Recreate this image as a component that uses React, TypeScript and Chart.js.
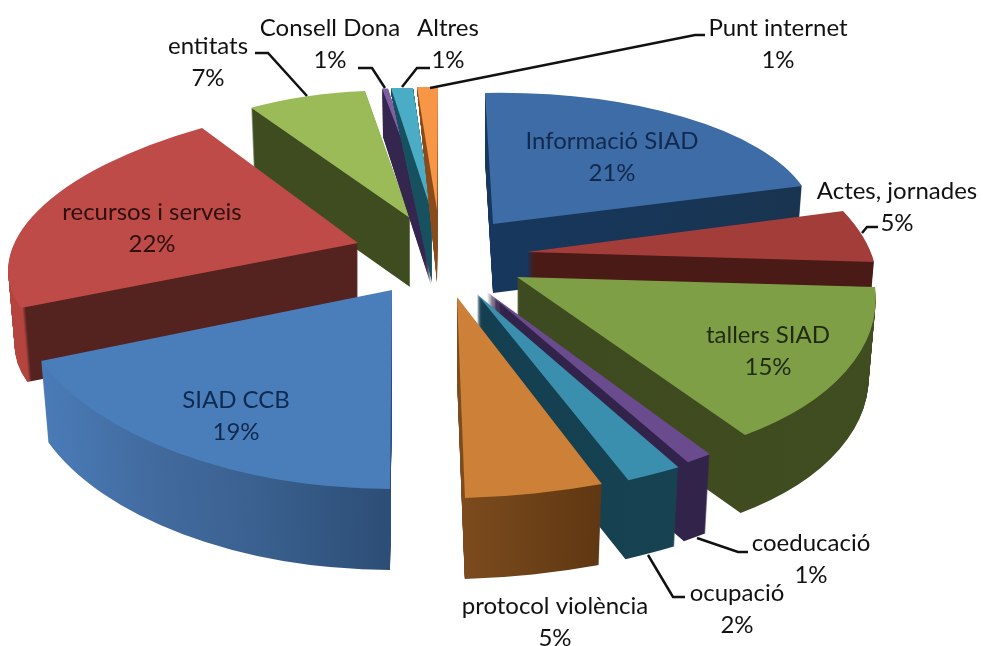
import React, { useEffect, useRef } from "react";
import { Chart, registerables } from "chart.js";

Chart.register(...registerables);

// ---- data ----
const categories = [
  "Informació SIAD", "Actes, jornades", "tallers SIAD", "coeducació", "ocupació", "protocol violència",
  "SIAD CCB", "recursos i serveis", "entitats", "Consell Dona", "Altres", "Punt internet",
];
const shares = [21, 5, 15, 1, 2, 5, 19, 22, 7, 1, 1, 1];

// ---- style ----
const topColors = ["#3d6ca6", "#a33d3a", "#7f9f46", "#6a4b8e", "#3b8fae", "#cd8038", "#4a7ebb", "#be4b48", "#9bbb59", "#7f5fa3", "#4bacc6", "#f79646"];
const wallColors: [number, string][][] = [
  [[0, "#17375e"], [1, "#183450"]],
  [[0, "#4a1a16"], [1, "#4a1a16"]],
  [[0, "#3e4a1f"], [1, "#404d20"]],
  [[0, "#32234a"], [1, "#32234a"]],
  [[0, "#143f50"], [1, "#174252"]],
  [[0, "#7d4c1e"], [1, "#5f3712"]],
  [[0, "#4a7bb7"], [0.35, "#41699c"], [0.6, "#3a6190"], [1, "#2c4d75"]],
  [[0, "#b5443f"], [0.04, "#b5443f"], [0.05, "#54231f"], [1, "#54231f"]],
  [[0, "#3f4c1f"], [1, "#3f4c1f"]],
  [[0, "#34264f"], [1, "#34264f"]],
  [[0, "#17505f"], [1, "#17505f"]],
  [[0, "#8a4b1a"], [1, "#8a4b1a"]],
];
const wallDepth = [69, 50, 78, 79, 79, 81, 81, 74, 69, 68, 70, 73];
// how quickly the wall thins towards the far rim (perspective)
const wallFade = [0, 0, 0, 0, 0, 0, 0, 0, 0, 0.0023, 0.00709, 0.0076];
const wallNarrow = 0.00025;
const paintOrder = [8, 9, 10, 11, 0, 7, 1, 2, 3, 4, 5, 6];
// each wedge is exploded to its own pivot and tilted by its own 2x2 view matrix [a, b, c, d]
const pivots = [[493, 224], [527, 252], [517, 277], [487, 292], [477, 294], [457, 297], [392, 290], [358, 243], [410, 218], [431, 217], [432, 213], [437, 210]];
const views = [
  [321.1, -5.6, 8, 131], [343.5, -0.3, 67, 163.7], [356, -1.8, 44.1, 188.3], [409, -25, 4.4, 208],
  [435.6, -17, -9.6, 207], [444, -1, -20, 201.5], [375.8, 14.9, -25.7, 198.4], [345.1, -3.7, -58, 144.9],
  [281.3, 12.7, -7.9, 126.9], [101, 20, 30.6, 127], [351, 12, -3, 124.4], [334, 3, -1, 123],
];
const labelCenters = [[612, 141], [897, 191], [768, 335], [811, 543], [737, 593], [555, 606], [236, 400], [152, 212], [208, 46], [330, 28], [448, 28], [778, 28]];
const labelColors = ["#12294d", "#111", "#1f2a10", "#111", "#111", "#111", "#10294f", "#2c0f0e", "#111", "#111", "#111", "#111"];
const leaderLines = [
  [[255, 53], [268, 53], [307, 96]],
  [[358, 68], [372, 68], [385, 88]],
  [[430, 68], [417, 68], [402, 87]],
  [[705, 35], [695, 35], [430, 88]],
  [[878, 227], [867, 227], [862, 233]],
  [[748, 552], [738, 552], [697, 538]],
  [[685, 597], [673, 597], [648, 555]],
];
const FONT = '24px Lato, "Noto Sans", sans-serif';
const LINE_GAP = 32;

const pie3d = {
  id: "pie3d",
  beforeDraw(chart: any) {
    const { ctx, width, height } = chart;
    ctx.save();
    ctx.fillStyle = "#ffffff";
    ctx.fillRect(0, 0, width, height);
    ctx.restore();
  },
  beforeDatasetDraw(chart: any) {
    const { ctx } = chart;
    const arcs = chart.getDatasetMeta(0).data;
    paintOrder.forEach((i) => {
      const arc = arcs[i];
      const R = arc.outerRadius;
      const [px, py] = pivots[i];
      const [a, b, c, d] = views[i];
      const place = (k: number) => {
        // wall layers sink by k and pinch towards the pivot, as the far rim recedes
        ctx.translate(px, py + k);
        ctx.scale(1 - k * wallNarrow, 1 + k * wallFade[i]);
        ctx.translate(-px, -py);
        ctx.transform(a / R, b / R, c / R, d / R, px - (a * arc.x + c * arc.y) / R, py - (b * arc.x + d * arc.y) / R);
      };
      // gradient across the on-screen width of the wedge, expressed in arc coordinates
      let minX = 0;
      let maxX = 0;
      for (let t = 0; t <= 20; t++) {
        const ang = arc.startAngle + ((arc.endAngle - arc.startAngle) * t) / 20;
        const sx = a * Math.cos(ang) + c * Math.sin(ang);
        minX = Math.min(minX, sx);
        maxX = Math.max(maxX, sx);
      }
      const norm = (a * a + c * c) / R;
      const toLocal = (sx: number) => [arc.x + (a * sx) / norm, arc.y + (c * sx) / norm];
      const [gx0, gy0] = toLocal(minX);
      const [gx1, gy1] = toLocal(maxX);
      const grad = ctx.createLinearGradient(gx0, gy0, gx1, gy1);
      wallColors[i].forEach(([stop, col]) => grad.addColorStop(stop, col));
      const base = arc.options;
      arc.options = Object.create(base, { backgroundColor: { value: grad } });
      for (let k = wallDepth[i]; k > 0; k--) {
        ctx.save();
        place(k);
        arc.draw(ctx);
        ctx.restore();
      }
      arc.options = base;
      ctx.save();
      place(0);
      arc.draw(ctx);
      ctx.restore();
    });
    return false;
  },
  afterDraw(chart: any) {
    const { ctx } = chart;
    ctx.save();
    ctx.strokeStyle = "#111111";
    ctx.lineWidth = 2.5;
    leaderLines.forEach((pts) => {
      ctx.beginPath();
      pts.forEach(([x, y], j) => (j ? ctx.lineTo(x, y) : ctx.moveTo(x, y)));
      ctx.stroke();
    });
    ctx.font = FONT;
    ctx.textAlign = "center";
    ctx.textBaseline = "middle";
    categories.forEach((name, i) => {
      const [x, y] = labelCenters[i];
      ctx.fillStyle = labelColors[i];
      ctx.fillText(name, x, y);
      ctx.fillText(shares[i] + "%", x, y + LINE_GAP);
    });
    ctx.restore();
  },
};

export default function App() {
  const ref = useRef<HTMLCanvasElement>(null);
  useEffect(() => {
    const chart = new Chart(ref.current!, {
      type: "pie",
      data: {
        labels: categories,
        datasets: [{ data: shares, backgroundColor: topColors, borderWidth: 0 }],
      },
      options: {
        animation: false,
        responsive: false,
        plugins: { legend: { display: false }, tooltip: { enabled: false } },
      },
      plugins: [pie3d],
    } as any);
    return () => chart.destroy();
  }, []);
  return (
    <>
      <style>{"body{margin:0;background:#fff}"}</style>
      <canvas ref={ref} width={983} height={646} style={{ display: "block" }} />
    </>
  );
}
